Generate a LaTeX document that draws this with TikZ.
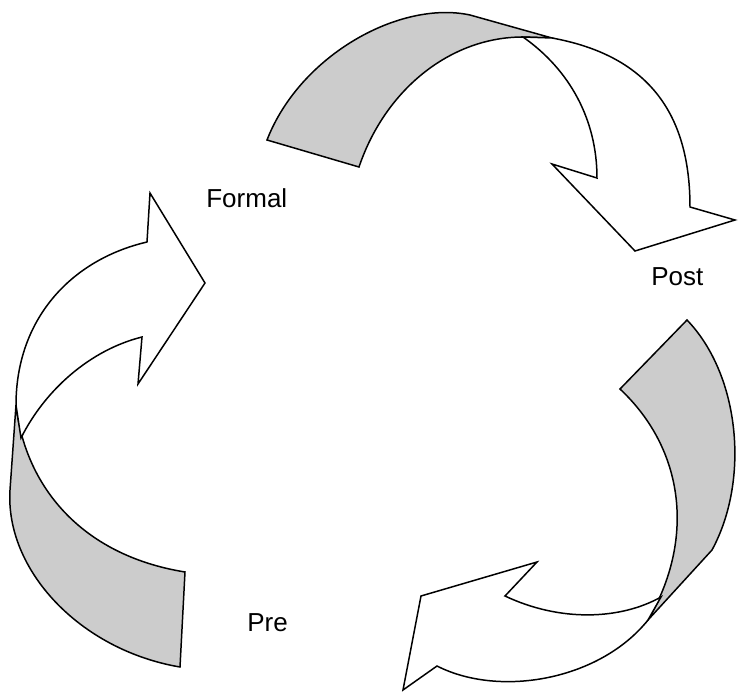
\documentclass[tikz,border=0pt]{standalone}
\usepackage{fontspec}
\setmainfont{Liberation Sans}
\definecolor{ribbon}{gray}{0.8}
\tikzset{
  back/.style={draw, fill=ribbon, line width=0.85pt},
  front/.style={draw, fill=white, line width=0.85pt},
  lbl/.style={anchor=base west, inner sep=0pt, font=\fontsize{14.8}{17}\selectfont}
}
\begin{document}
\begin{tikzpicture}[x=0.02cm, y=-0.02cm]
\useasboundingbox (0,0) rectangle (738,700);
% top arrow
\draw[back] (267,140) .. controls (300,55) and (400,0) .. (470,15) -- (552,38) -- (523,37)
  .. controls (450,37) and (385,90) .. (359,167) -- cycle;
\draw[front] (523,37) .. controls (570,70) and (597,120) .. (597,178) -- (552,164) -- (635,251)
  -- (735,220) -- (690,207) .. controls (690,110) and (645,55) .. (552,38) -- cycle;
% left arrow
\draw[back] (16,405) -- (10,490) .. controls (5,570) and (80,650) .. (180,667) -- (185,572)
  .. controls (80,555) and (25,485) .. (16,405) -- cycle;
\draw[front] (147,242) -- (150,193) -- (205,283) -- (138,384) -- (142,337)
  .. controls (90,350) and (45,390) .. (21,438) -- (16,405)
  .. controls (16,320) and (70,260) .. (147,242) -- cycle;
% bottom right arrow
\draw[back] (687,320) .. controls (740,375) and (750,480) .. (712,550) -- (648,620)
  .. controls (695,540) and (685,450) .. (620,389) -- cycle;
\draw[front] (505,596) -- (537,562) -- (421,596) -- (403,690) -- (437,666)
  .. controls (500,698) and (600,680) .. (648,620) -- (661,597)
  .. controls (620,620) and (560,622) .. (505,596) -- cycle;
\node[lbl] (formal) at (206,207) {Formal};
\node[lbl] (post) at (651,285) {Post};
\node[lbl] (pre) at (247,631) {Pre};
\end{tikzpicture}
\end{document}
